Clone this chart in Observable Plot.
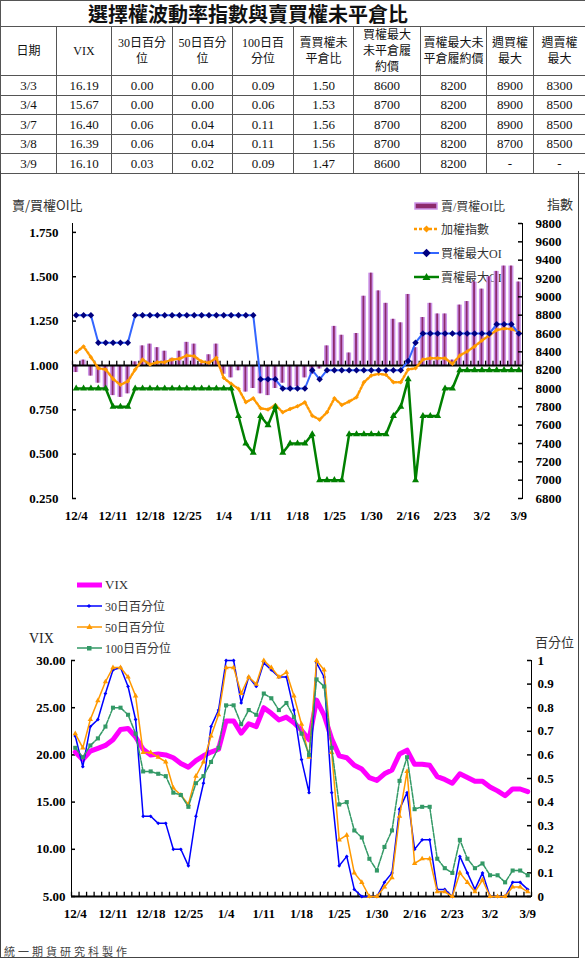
<!DOCTYPE html>
<html>
<head>
<meta charset="utf-8">
<script src="https://cdn.jsdelivr.net/npm/d3@7"></script>
<script src="https://cdn.jsdelivr.net/npm/@observablehq/plot@0.6"></script>
<style>
html,body{margin:0;padding:0;background:#fff;}
#wrap{position:relative;width:585px;height:962px;overflow:hidden;font-family:"Liberation Serif","Noto Sans CJK TC",serif;}
#tbl{position:absolute;left:0;top:0;border-collapse:collapse;table-layout:fixed;width:585px;}
#tbl td{border:1px solid #555;text-align:center;vertical-align:middle;padding:0;color:#111;font-size:13px;line-height:15px;}
#tbl tr.tt td{height:25px;font-family:"Noto Sans CJK TC",sans-serif;font-size:20px;font-weight:bold;text-align:left;padding-left:87px;line-height:24px;}
#tbl tr.hd td{height:47px;font-family:"Liberation Serif","Noto Sans CJK TC",serif;font-size:12px;line-height:16px;}
#tbl tr.rw td{height:18.5px;}
.frame{position:absolute;left:0;top:171px;width:577px;height:786px;border-left:1px solid #444;border-right:1px solid #444;border-bottom:1px solid #444;}
.lbl{position:absolute;font-family:"Noto Sans CJK TC",sans-serif;font-size:13px;color:#333;white-space:nowrap;line-height:16px;}
.leg{position:absolute;display:flex;align-items:center;height:16px;font-family:"Liberation Serif","Noto Sans CJK TC",serif;font-size:12px;color:#333;white-space:nowrap;}
.leg svg{margin-right:2px;display:block;}
</style>
</head>
<body>
<div id="wrap">
  <table id="tbl"></table>
  <div class="frame"></div>

  <div class="lbl" style="left:12px;top:197px;">賣/買權OI比</div>
  <div class="lbl" style="left:547px;top:196px;">指數</div>

  <div class="leg" style="left:414px;top:198px;"><svg width="25" height="10"><rect x="1" y="2" width="22" height="6" fill="#8c2a6c" stroke="#cc93e8" stroke-width="1.5"/></svg>賣/買權OI比</div>
  <div class="leg" style="left:414px;top:221px;"><svg width="25" height="10"><line x1="0" y1="5" x2="25" y2="5" stroke="#ff9900" stroke-width="2.5" stroke-dasharray="3 2"/><rect x="10" y="2.5" width="5" height="5" fill="#ff9900" transform="rotate(45 12.5 5)"/></svg>加權指數</div>
  <div class="leg" style="left:414px;top:245px;"><svg width="25" height="10"><line x1="0" y1="5" x2="25" y2="5" stroke="#3366ff" stroke-width="2"/><rect x="9.5" y="2" width="6" height="6" fill="#000080" transform="rotate(45 12.5 5)"/></svg>買權最大OI</div>
  <div class="leg" style="left:414px;top:269px;"><svg width="25" height="10"><line x1="0" y1="5" x2="25" y2="5" stroke="#008000" stroke-width="2.5"/><polygon points="12.5,1 16.5,8 8.5,8" fill="#008000"/></svg>賣權最大OI</div>

  <div class="leg" style="left:76px;top:577px;font-size:13px;"><svg width="27" height="10"><line x1="1" y1="5" x2="26" y2="5" stroke="#ff00ff" stroke-width="5"/></svg>VIX</div>
  <div class="leg" style="left:76px;top:598px;"><svg width="27" height="10"><line x1="1" y1="5" x2="26" y2="5" stroke="#0000ff" stroke-width="1.5"/><rect x="11.5" y="3.5" width="3" height="3" fill="#0000ff" transform="rotate(45 13 5)"/></svg>30日百分位</div>
  <div class="leg" style="left:76px;top:619px;"><svg width="27" height="10"><line x1="1" y1="5" x2="26" y2="5" stroke="#ff9900" stroke-width="1.5"/><polygon points="13.5,1.5 16.5,7 10.5,7" fill="#ff9900"/></svg>50日百分位</div>
  <div class="leg" style="left:76px;top:640px;"><svg width="27" height="10"><line x1="1" y1="5" x2="26" y2="5" stroke="#339966" stroke-width="1.5"/><rect x="11" y="3" width="4.5" height="4.5" fill="#339966"/></svg>100日百分位</div>

  <div class="lbl" style="left:29px;top:631px;font-family:'Liberation Serif',serif;font-size:14px;color:#222;">VIX</div>
  <div class="lbl" style="left:535px;top:634px;">百分位</div>

  <div class="lbl" style="left:4px;top:943px;font-size:11px;letter-spacing:3px;color:#444;">統一期貨研究科製作</div>
</div>

<script>
// ---------- table data ----------
const tblDates   = ["3/3","3/4","3/7","3/8","3/9"];
const tblVix     = ["16.19","15.67","16.40","16.39","16.10"];
const tblP30     = ["0.00","0.00","0.06","0.06","0.03"];
const tblP50     = ["0.00","0.00","0.04","0.04","0.02"];
const tblP100    = ["0.09","0.06","0.11","0.11","0.09"];
const tblRatio   = ["1.50","1.53","1.56","1.56","1.47"];
const tblCallMax = ["8600","8700","8700","8700","8600"];
const tblPutMax  = ["8200","8200","8200","8200","8200"];
const tblWkCall  = ["8900","8900","8900","8700","-"];
const tblWkPut   = ["8300","8500","8500","8500","-"];
const tblTitle   = "選擇權波動率指數與賣買權未平倉比";
const tblHeaders = ["日期","VIX","30日百分<br>位","50日百分<br>位","100日百<br>分位","賣買權未<br>平倉比","買權最大<br>未平倉履<br>約價","賣權最大未<br>平倉履約價","週買權<br>最大","週賣權<br>最大"];
const colWidths  = [56,55,61,60,61,60,67,66,47,52];

// ---------- chart data ----------
const dates = ["12/4","12/7","12/8","12/9","12/10","12/11","12/14","12/15","12/16","12/17",
  "12/18","12/21","12/22","12/23","12/24","12/25","12/28","12/29","12/30","12/31",
  "1/4","1/5","1/6","1/7","1/8","1/11","1/12","1/13","1/14","1/15",
  "1/18","1/19","1/20","1/21","1/22","1/25","1/26","1/27","1/28","1/29",
  "1/30","2/1","2/2","2/3","2/15","2/16","2/17","2/18","2/19","2/22",
  "2/23","2/24","2/25","2/26","3/1","3/2","3/3","3/4","3/7","3/8","3/9"];
const xTicks = ["12/4","12/11","12/18","12/25","1/4","1/11","1/18","1/25","1/30","2/16","2/23","3/2","3/9"];

const ratio = [0.96,1.03,0.94,0.90,0.87,0.83,0.82,0.84,1.02,1.11,
  1.12,1.10,1.08,1.04,1.08,1.13,1.12,1.01,1.06,1.12,
  0.95,0.93,0.97,0.85,0.87,0.84,0.83,0.87,0.90,0.86,
  0.88,0.93,0.95,0.98,1.11,1.22,1.17,1.07,1.18,1.39,
  1.52,1.42,1.35,1.26,1.24,1.40,1.10,1.27,1.35,1.29,
  1.29,1.03,1.34,1.36,1.47,1.43,1.50,1.53,1.56,1.56,1.47];
const taiex = [8396,8459,8342,8221,8207,8105,8040,8079,8207,8316,
  8262,8287,8287,8316,8324,8360,8353,8294,8280,8335,
  8116,8051,7996,7850,7893,7784,7770,7821,7740,7777,
  7806,7850,7704,7660,7740,7893,7821,7857,7904,8068,
  8142,8160,8149,8068,8068,8207,8221,8316,8331,8331,
  8331,8269,8360,8404,8459,8524,8579,8637,8655,8648,8619];
const callMax = [8800,8800,8800,8500,8500,8500,8500,8500,8800,8800,
  8800,8800,8800,8800,8800,8800,8800,8800,8800,8800,
  8800,8800,8800,8800,8800,8100,8100,8100,8000,8000,
  8000,8000,8200,8100,8200,8200,8200,8200,8200,8200,
  8200,8200,8200,8200,8200,8300,8500,8600,8600,8600,
  8600,8600,8600,8600,8600,8600,8600,8700,8700,8700,8600];
const putMax = [8000,8000,8000,8000,8000,7800,7800,7800,8000,8000,
  8000,8000,8000,8000,8000,8000,8000,8000,8000,8000,
  8000,8000,7700,7400,7300,7700,7600,7800,7300,7400,
  7400,7400,7500,7000,7000,7000,7000,7500,7500,7500,
  7500,7500,7500,7700,7800,8100,7000,7700,7700,7700,
  8000,8000,8200,8200,8200,8200,8200,8200,8200,8200,8200];

const vix = [20.3,19.5,20.4,20.7,21.0,21.6,22.7,22.8,21.9,20.6,
  20.0,20.1,20.0,19.7,19.1,18.7,19.4,19.9,20.3,20.6,
  23.6,23.6,22.3,23.3,23.0,25.0,24.4,23.7,24.0,23.4,
  22.6,21.6,25.8,24.2,21.7,19.9,19.7,18.9,18.5,17.6,
  17.3,18.0,18.4,20.1,20.5,19.0,19.0,18.9,17.7,17.4,
  17.0,18.0,17.6,17.2,17.2,16.6,16.19,15.67,16.40,16.39,16.10];
const p30 = [0.68,0.55,0.72,0.75,0.86,0.96,0.97,0.89,0.75,0.34,
  0.34,0.31,0.31,0.20,0.20,0.13,0.34,0.48,0.72,0.79,
  1.00,1.00,0.82,0.93,0.89,0.99,0.96,0.93,0.93,0.79,
  0.58,0.44,0.99,0.93,0.44,0.13,0.17,0.03,0.00,0.00,
  0.00,0.06,0.10,0.37,0.44,0.20,0.24,0.24,0.03,0.03,
  0.00,0.17,0.10,0.03,0.10,0.00,0.00,0.00,0.06,0.06,0.03];
const p50 = [0.69,0.63,0.75,0.83,0.91,0.97,0.97,0.93,0.85,0.61,
  0.61,0.59,0.57,0.46,0.43,0.39,0.51,0.57,0.68,0.77,
  0.97,0.97,0.86,0.93,0.90,1.00,0.97,0.93,0.95,0.85,
  0.73,0.59,1.00,0.96,0.61,0.24,0.26,0.10,0.06,0.00,
  0.00,0.04,0.08,0.34,0.53,0.14,0.16,0.16,0.02,0.02,
  0.00,0.10,0.06,0.02,0.07,0.00,0.00,0.00,0.04,0.04,0.02];
const p100 = [0.63,0.59,0.64,0.67,0.72,0.80,0.80,0.77,0.69,0.53,
  0.53,0.52,0.51,0.44,0.43,0.38,0.48,0.51,0.57,0.63,
  0.81,0.81,0.73,0.79,0.77,0.86,0.84,0.79,0.82,0.76,
  0.69,0.60,0.92,0.89,0.63,0.39,0.40,0.28,0.25,0.16,
  0.11,0.21,0.28,0.49,0.59,0.37,0.38,0.38,0.16,0.12,
  0.10,0.24,0.16,0.12,0.14,0.09,0.09,0.06,0.11,0.11,0.09];

const leftTicks  = [0.25,0.5,0.75,1.0,1.25,1.5,1.75];
const rightTicks = [6800,7000,7200,7400,7600,7800,8000,8200,8400,8600,8800,9000,9200,9400,9600,9800];
const vixTicks   = [5,10,15,20,25,30];
const pctTicks   = [0,0.1,0.2,0.3,0.4,0.5,0.6,0.7,0.8,0.9,1];

// ---------- table ----------
const tbl = document.getElementById("tbl");
let html = "<colgroup>" + colWidths.map(w => `<col style="width:${w}px">`).join("") + "</colgroup>";
html += `<tr class="tt"><td colspan="${colWidths.length}">${tblTitle}</td></tr>`;
html += `<tr class="hd">` + tblHeaders.map(h => `<td>${h}</td>`).join("") + `</tr>`;
tblDates.forEach((d, i) => {
  const cells = [d, tblVix[i], tblP30[i], tblP50[i], tblP100[i], tblRatio[i], tblCallMax[i], tblPutMax[i], tblWkCall[i], tblWkPut[i]];
  html += `<tr class="rw">` + cells.map(c => `<td>${c}</td>`).join("") + `</tr>`;
});
tbl.innerHTML = html;

// ---------- charts ----------
const W = 585;
const serif = "'Liberation Serif','Times New Roman',serif";
const baseStyle = {background: "none", fontFamily: serif, fontSize: "13px", fontWeight: "bold", color: "#000", overflow: "visible"};
const data = dates.map((d, i) => ({date: d, ratio: ratio[i], taiex: taiex[i], callMax: callMax[i], putMax: putMax[i],
  vix: vix[i], p30: p30[i], p50: p50[i], p100: p100[i]}));
const last = dates[dates.length - 1];

const TOP = {height: 355, marginTop: 48, marginBottom: 32, marginLeft: 72, marginRight: 63};
const bwTop = (W - TOP.marginLeft - TOP.marginRight) / dates.length;

const topA = Plot.plot({
  width: W, ...TOP, style: baseStyle,
  x: {type: "band", domain: dates, padding: 0, round: false, ticks: xTicks, tickSize: 0, tickPadding: 12, label: null},
  y: {domain: [0.25, 1.8], ticks: leftTicks, tickFormat: d3.format(".3f"), tickSize: 0, tickPadding: 14, label: null, line: true},
  marks: [
    Plot.barY(data, {x: "date", y1: () => 1, y2: "ratio", fill: "#cc93e8", insetLeft: 1.2, insetRight: 1.2}),
    Plot.barY(data, {x: "date", y1: () => 1, y2: "ratio", fill: "#8c2a6c", insetLeft: 2.8, insetRight: 2.8}),
    Plot.ruleY([1], {stroke: "#000", strokeWidth: 2}),
    Plot.ruleX(dates, {x: d => d, y1: () => 1, y2: () => 1.024, dx: -bwTop / 2, stroke: "#000", strokeWidth: 1.3}),
    Plot.ruleX([last], {x: d => d, y1: () => 1, y2: () => 1.024, dx: bwTop / 2, stroke: "#000", strokeWidth: 1.3}),
    Plot.tickY(leftTicks, {y: d => d, x: () => dates[0], insetRight: bwTop - 4, stroke: "#000", strokeWidth: 1.5})
  ]
});

const topB = Plot.plot({
  width: W, ...TOP, style: baseStyle,
  x: {type: "band", domain: dates, padding: 0, round: false, axis: null},
  y: {domain: [6800, 9800], ticks: rightTicks, tickFormat: d => String(d), axis: "right", tickSize: 0, tickPadding: 13, label: null, line: true},
  marks: [
    Plot.tickY(rightTicks, {y: d => d, x: () => last, insetLeft: bwTop - 4, stroke: "#000", strokeWidth: 1.5}),
    Plot.line(data, {x: "date", y: "taiex", stroke: "#ff9900", strokeWidth: 2.5, strokeDasharray: "2 2"}),
    Plot.dot(data, {x: "date", y: "taiex", symbol: "square", rotate: 45, r: 1.8, fill: "#ff9900", stroke: "none"}),
    Plot.line(data, {x: "date", y: "callMax", stroke: "#3366ff", strokeWidth: 2}),
    Plot.dot(data, {x: "date", y: "callMax", symbol: "square", rotate: 45, r: 2.6, fill: "#000080", stroke: "none"}),
    Plot.line(data, {x: "date", y: "putMax", stroke: "#008000", strokeWidth: 2.5}),
    Plot.dot(data, {x: "date", y: "putMax", symbol: "triangle", r: 2.6, fill: "#008000", stroke: "none"})
  ]
});

const BOT = {height: 360, marginTop: 90, marginBottom: 34, marginLeft: 71, marginRight: 54};
const bwBot = (W - BOT.marginLeft - BOT.marginRight) / dates.length;

const botA = Plot.plot({
  width: W, ...BOT, style: baseStyle,
  x: {type: "band", domain: dates, padding: 0, round: false, ticks: xTicks, tickSize: 0, tickPadding: 12, label: null},
  y: {domain: [5, 30], ticks: vixTicks, tickFormat: d3.format(".2f"), tickSize: 0, tickPadding: 6, label: null, line: true},
  marks: [
    Plot.ruleY([5], {stroke: "#000", strokeWidth: 2}),
    Plot.ruleX(dates, {x: d => d, y1: () => 5, y2: () => 5.45, dx: -bwBot / 2, stroke: "#000", strokeWidth: 1.3}),
    Plot.ruleX([last], {x: d => d, y1: () => 5, y2: () => 5.45, dx: bwBot / 2, stroke: "#000", strokeWidth: 1.3}),
    Plot.tickY(vixTicks, {y: d => d, x: () => dates[0], insetRight: bwBot - 4, stroke: "#000", strokeWidth: 1.5}),
    Plot.line(data, {x: "date", y: "vix", stroke: "#ff00ff", strokeWidth: 5, strokeLinejoin: "round"})
  ]
});

const botB = Plot.plot({
  width: W, ...BOT, style: baseStyle,
  x: {type: "band", domain: dates, padding: 0, round: false, axis: null},
  y: {domain: [0, 1], ticks: pctTicks, tickFormat: d => String(+d.toFixed(1)), axis: "right", tickSize: 0, tickPadding: 6, label: null, line: true},
  marks: [
    Plot.tickY(pctTicks, {y: d => d, x: () => last, insetLeft: bwBot - 4, stroke: "#000", strokeWidth: 1.5}),
    Plot.line(data, {x: "date", y: "p30", stroke: "#0000ff", strokeWidth: 1.5}),
    Plot.dot(data, {x: "date", y: "p30", symbol: "square", rotate: 45, r: 1.5, fill: "#0000ff", stroke: "none"}),
    Plot.line(data, {x: "date", y: "p50", stroke: "#ff9900", strokeWidth: 1.5}),
    Plot.dot(data, {x: "date", y: "p50", symbol: "triangle", r: 2, fill: "#ff9900", stroke: "none"}),
    Plot.line(data, {x: "date", y: "p100", stroke: "#339966", strokeWidth: 1.5, strokeDasharray: "5 1.5"}),
    Plot.dot(data, {x: "date", y: "p100", symbol: "square", r: 2.3, fill: "#339966", stroke: "none"})
  ]
});

const wrap = document.getElementById("wrap");
[[topA, 175], [topB, 175], [botA, 570], [botB, 570]].forEach(([el, top]) => {
  el.style.position = "absolute";
  el.style.left = "0px";
  el.style.top = top + "px";
  wrap.appendChild(el);
});
</script>
</body>
</html>
